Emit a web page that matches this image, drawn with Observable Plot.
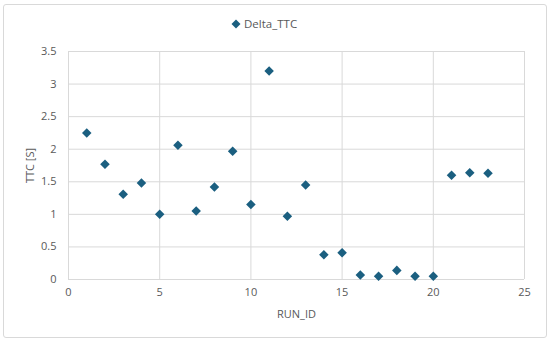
<!DOCTYPE html>
<html>
<head>
<meta charset="utf-8">
<script src="https://cdn.jsdelivr.net/npm/d3@7"></script>
<script src="https://cdn.jsdelivr.net/npm/@observablehq/plot@0.6"></script>
<style>
  body { margin: 0; background: #fff; }
  #wrap { position: relative; width: 550px; height: 343px; font-family: "Open Sans", "Liberation Sans", sans-serif; }
  #border { position: absolute; left: 3px; top: 4px; width: 542px; height: 332px; border: 1px solid #d9d9d9; border-radius: 3px; }
  #legend { position: absolute; left: 231px; top: 16px; font-size: 11.5px; color: #595959; white-space: nowrap; }
  #legend svg { vertical-align: -1px; margin-right: 3px; }
  #chart { position: absolute; left: 0; top: 0; }
</style>
</head>
<body>
<div id="wrap">
  <div id="border"></div>
  <div id="chart"></div>
  <div id="legend"><svg width="10" height="10"><rect x="1.8" y="1.8" width="6.4" height="6.4" fill="#1b5f80" transform="rotate(45 5 5)"/></svg>Delta_TTC</div>
</div>
<script>
const seriesName = "Delta_TTC";
const runIds = [1,2,3,4,5,6,7,8,9,10,11,12,13,14,15,16,17,18,19,20,21,22,23];
const deltaTTC = [2.25,1.77,1.31,1.48,1.00,2.06,1.05,1.42,1.97,1.15,3.20,0.97,1.45,0.38,0.41,0.07,0.05,0.14,0.05,0.05,1.60,1.64,1.63];
const xTicks = [0,5,10,15,20,25];
const yTicks = [0,0.5,1,1.5,2,2.5,3,3.5];

const data = runIds.map((id, i) => ({run: id, ttc: deltaTTC[i]}));

const chart = Plot.plot({
  width: 550,
  height: 343,
  marginLeft: 68,
  marginRight: 26,
  marginTop: 51,
  marginBottom: 64,
  style: {fontFamily: '"Open Sans", "Liberation Sans", sans-serif', fontSize: "11px", color: "#595959", background: "transparent"},
  x: {domain: [0, 25], ticks: xTicks, tickSize: 0, tickPadding: 9, label: "RUN_ID", labelAnchor: "center", labelArrow: "none", labelOffset: 38, tickFormat: d => String(d)},
  y: {domain: [0, 3.5], ticks: yTicks, tickSize: 0, tickPadding: 12, label: "TTC [S]", labelAnchor: "center", labelArrow: "none", labelOffset: 42, tickFormat: d => String(d)},
  marks: [
    Plot.ruleX(xTicks, {stroke: "#d9d9d9", strokeWidth: 1}),
    Plot.ruleY(yTicks, {stroke: "#d9d9d9", strokeWidth: 1}),
    Plot.dot(data, {x: "run", y: "ttc", symbol: "square", r: 3.8, rotate: 45, fill: "#1b5f80", stroke: "none", title: d => `${seriesName}: ${d.ttc}`})
  ]
});
document.getElementById("chart").appendChild(chart);
</script>
</body>
</html>
